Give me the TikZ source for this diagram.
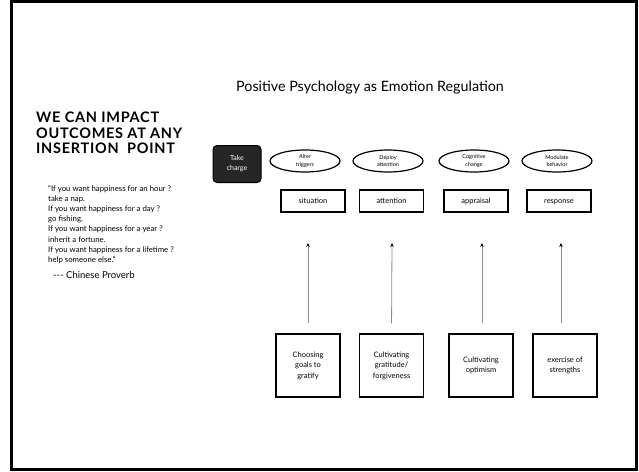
\documentclass[tikz,border=0pt]{standalone}
\usepackage{fontspec}
\setmainfont{Lato}
\usetikzlibrary{shapes.geometric, arrows, arrows.meta}
\tikzset{
  charge/.style={
    rectangle,
    rounded corners=4pt,
    minimum width=48pt,
    minimum height=37pt,
    align=center,
    draw=black,
    line width=1pt,
    fill=black!85,
    text=white,
    font=\fontsize{7}{10}\selectfont
    },
  regul/.style={
    ellipse,
    minimum width=70pt,
    minimum height=22pt,
    inner sep=0pt,
    align=center,
    draw=black,
    line width=1.2pt,
    font=\fontsize{5.5}{7.5}\selectfont
    },
  stage/.style={
    rectangle,
    minimum width=64pt,
    minimum height=22pt,
    text height=6pt,
    text depth=2pt,
    draw=black,
    line width=1.2pt,
    font=\fontsize{7.5}{9}\selectfont
    },
  practice/.style={
    rectangle,
    minimum width=64pt,
    minimum height=63pt,
    align=center,
    draw=black,
    line width=1.2pt,
    font=\fontsize{7.5}{10.5}\selectfont
    },
  arrow/.style={-{Stealth[length=4pt,width=3.5pt,black]},black!45,line width=0.8pt,shorten <=10pt},
}

\begin{document}
\begin{tikzpicture}[x=1pt,y=-1pt]
\useasboundingbox (0,0) rectangle (639,471);
% slide frame
\draw[line width=3pt] (11,1.5) rectangle (636,469);

\node (title) [font=\fontsize{14.3}{16}\selectfont] at (370,88) {Positive Psychology as Emotion Regulation};
\node (heading) [anchor=north west,align=left,inner sep=0pt,
  font=\fontsize{14.5}{15.5}\selectfont\bfseries\addfontfeatures{LetterSpace=5}] at (36,112)
  {WE CAN IMPACT\\ OUTCOMES AT ANY\\ INSERTION\ \ POINT};
\node (quote) [anchor=north west,align=left,inner sep=0pt,
  font=\fontsize{7.8}{10.2}\selectfont] at (48,185)
  {``If you want happiness for an hour ?\\ take a nap.\\
   If you want happiness for a day ?\\ go fishing.\\
   If you want happiness for a year ?\\ inherit a fortune.\\
   If you want happiness for a lifetime ?\\ help someone else.''};
\node (proverb) [anchor=north west,inner sep=0pt,
  font=\fontsize{9.5}{10}\selectfont] at (53,271) {{-}{-}{-} Chinese Proverb};

\node (take) [charge] at (237,164) {Take\\ charge};

\node (alter) [regul] at (305,161) {Alter\\ triggers};
\node (deploy) [regul] at (388,161) {Deploy\\ attention};
\node (cogn) [regul] at (474,161) {Cognitive\\ change};
\node (modul) [regul] at (557,161) {Modulate\\ behavior};

\node (situation) [stage] at (313,201) {situation};
\node (attention) [stage] at (391.5,201) {attention};
\node (appraisal) [stage] at (476,201) {appraisal};
\node (response) [stage] at (559,201) {response};

\node (goals) [practice] at (308,365.5) {Choosing\\ goals to\\ gratify};
\node (gratitude) [practice] at (391.5,365.5) {Cultivating\\ gratitude/\\ forgiveness};
\node (optimism) [practice] at (481,365.5) {Cultivating\\ optimism};
\node (strengths) [practice] at (565,365.5) {exercise of\\ strengths};

\coordinate (t1) at (308,243);
\coordinate (t2) at (392,243);
\coordinate (t3) at (482,243);
\coordinate (t4) at (561,243);
\draw[arrow] (goals.north) -- (t1);
\draw[arrow] (gratitude.north) -- (t2);
\draw[arrow] (optimism.north -| t3) -- (t3);
\draw[arrow] (strengths.north -| t4) -- (t4);
\end{tikzpicture}
\end{document}
